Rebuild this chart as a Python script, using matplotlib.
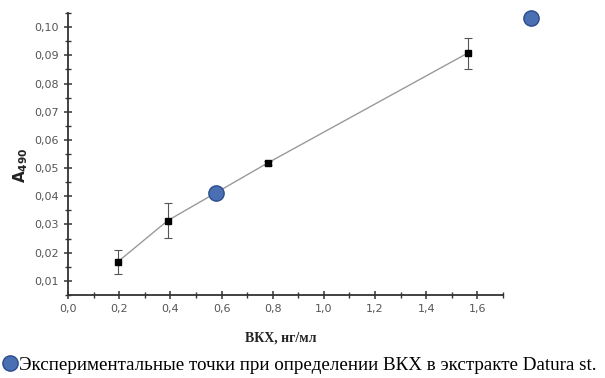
import numpy as np
import matplotlib
matplotlib.use("Agg")
import matplotlib.pyplot as plt
from matplotlib.lines import Line2D
from matplotlib.ticker import MultipleLocator, FuncFormatter

# Калибровочные точки (концентрация ВКХ, нг/мл) и оптическая плотность A490
conc = [0.195, 0.39, 0.78, 1.5625]
a490 = [0.0168, 0.0314, 0.0518, 0.0908]
err_lo = [0.0043, 0.0062, 0.0008, 0.0056]
err_hi = [0.0042, 0.0063, 0.0008, 0.0054]

# Экспериментальные точки для экстракта
exp_conc = [0.58, 1.81]
exp_a490 = [0.0412, 0.1033]

legend_text = "Экспериментальные точки при определении ВКХ в экстракте Datura st."

fig = plt.figure(figsize=(6.05, 3.78), dpi=100)
ax = fig.add_axes([0.1124, 0.2196, 0.719, 0.746])

ax.plot(conc, a490, color="#9a9a9a", lw=1.0, zorder=1)
ax.errorbar(conc, a490, yerr=[err_lo, err_hi], fmt="s", color="black",
            ms=4.5, ecolor="#555555", elinewidth=0.8, capsize=3, capthick=0.8, zorder=3)
ax.plot(exp_conc, exp_a490, "o", ms=11, mfc="#4a6fb3", mec="#2c4c8c", mew=1.0,
        clip_on=False, zorder=4)

ax.set_xlim(0, 1.7)
ax.set_ylim(0.005, 0.105)
for s in ["top", "right"]:
    ax.spines[s].set_visible(False)
for s in ["left", "bottom"]:
    ax.spines[s].set_linewidth(1.3)
    ax.spines[s].set_color("#333333")

ax.xaxis.set_major_locator(MultipleLocator(0.2))
ax.xaxis.set_minor_locator(MultipleLocator(0.1))
ax.yaxis.set_major_locator(MultipleLocator(0.01))
ax.yaxis.set_minor_locator(MultipleLocator(0.005))
ax.xaxis.set_major_formatter(FuncFormatter(lambda v, p: f"{v:.1f}".replace(".", ",")))
ax.yaxis.set_major_formatter(FuncFormatter(lambda v, p: f"{v:.2f}".replace(".", ",")))
ax.tick_params(which="major", direction="inout", length=6, width=1.1, color="#333333",
               labelsize=8, labelcolor="#555555")
ax.tick_params(which="minor", direction="inout", length=4, width=1.0, color="#333333")

ax.set_xlabel("ВКХ, нг/мл", family="Liberation Serif", fontweight="bold",
              fontsize=10, color="#222222")
ax.xaxis.set_label_coords(0.49, -0.13)
ax.set_ylabel(r"$\mathbf{A_{490}}$", fontsize=11, color="#222222")
ax.yaxis.set_label_coords(-0.088, 0.46)

handle = Line2D([], [], marker="o", ls="none", ms=11, mfc="#4a6fb3", mec="#2c4c8c")
fig.legend([handle], [legend_text], loc="lower left", bbox_to_anchor=(-0.024, -0.035),
           frameon=False, handlelength=0.8, handletextpad=0.05,
           prop={"family": "Liberation Serif", "size": 13.7})

fig.savefig("out.png", dpi=100)
